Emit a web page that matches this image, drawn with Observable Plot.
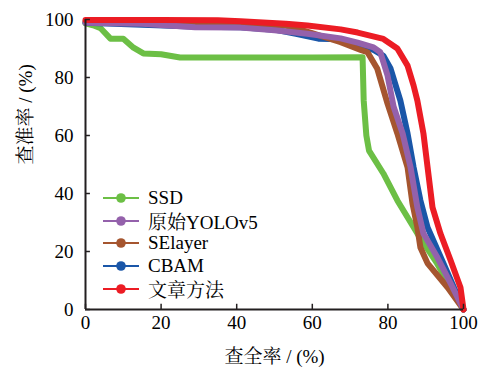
<!DOCTYPE html>
<html><head><meta charset="utf-8">
<script src="https://cdn.jsdelivr.net/npm/d3@7"></script>
<script src="https://cdn.jsdelivr.net/npm/@observablehq/plot@0.6"></script>
<style>
body{margin:0;font-size:18px}
.a{font-family:"Times New Roman","Noto Serif CJK SC",serif;}
#wrap{position:relative;width:480px;height:372px;}
#legend{position:absolute;left:103px;top:187px;}
.row{display:flex;align-items:center;height:22.6px;}
.row svg{margin-right:9px;}
</style></head>
<body>
<div id="wrap"><div id="legend" class="a"></div></div>
<script>
const seriesNames = ["SSD", "原始YOLOv5", "SElayer", "CBAM", "文章方法"];
const seriesColors = ["#6cbf45", "#9461ab", "#a5552f", "#1a56a8", "#ec1c24"];
const xTicks = [0, 20, 40, 60, 80, 100];
const yTicks = [0, 20, 40, 60, 80, 100];
const xTitle = "查全率 / (%)";
const yTitle = "查准率 / (%)";

const ssdRecall    = [0, 2, 4, 6.6, 10, 12.7, 15.3, 20, 25, 40, 60, 73.3, 73.6, 74.3, 75, 78.8, 82.5, 87.8, 93, 100];
const ssdPrecision = [98.7, 98, 97, 93.4, 93.4, 90.3, 88.3, 88, 86.9, 86.9, 86.9, 87, 72, 60, 54.8, 46.9, 37.6, 26.2, 15.9, 0];

const yoloRecall    = [0, 15, 29, 41, 50, 58.7, 67.5, 72, 76.2, 78, 79.9, 81.5, 83.9, 86, 87.8, 89.4, 93.1, 96.6, 100];
const yoloPrecision = [98.9, 98.5, 97.3, 97.2, 96.3, 95.1, 93.5, 92, 90.4, 88.7, 80.7, 70, 60.7, 49, 35.2, 26.2, 17.9, 9, 0];

const seRecall    = [0, 15, 29, 41, 53, 59.5, 67.5, 72.8, 74.6, 77.2, 79.9, 82.5, 85.2, 86.5, 87.8, 88.6, 90.5, 95.8, 100];
const sePrecision = [99.3, 99.1, 98.7, 98.4, 97.9, 95.5, 92.2, 89.5, 88.7, 83, 71, 60.7, 49, 36.6, 28.3, 21.4, 15.9, 7.6, 0];

const cbamRecall    = [0, 15, 30, 41, 50, 56, 61.6, 67.5, 72, 76.2, 78.8, 80.7, 83.3, 85.2, 86.8, 88.6, 90.5, 94.7, 100];
const cbamPrecision = [98.9, 98.2, 97.5, 97.3, 96.5, 95, 93.4, 93.2, 91.5, 89.5, 87.5, 83.1, 72, 60.7, 49, 37.6, 28.3, 15.9, 0];

const oursRecall    = [0, 20, 35, 41, 53, 58.7, 67.5, 72, 78.8, 82.5, 85.2, 86.8, 87.8, 89.4, 90.5, 91.8, 93.9, 96.6, 99.2, 100];
const oursPrecision = [99.8, 99.8, 99.7, 99.4, 98.5, 97.9, 96.6, 95.5, 93.3, 90, 84.1, 77.2, 72, 60.7, 49, 35.2, 26.2, 16.9, 7.6, 0];

const recalls = [ssdRecall, yoloRecall, seRecall, cbamRecall, oursRecall];
const precisions = [ssdPrecision, yoloPrecision, sePrecision, cbamPrecision, oursPrecision];
const drawOrder = [0, 3, 2, 1, 4];

const data = [];
for (const i of drawOrder) {
  recalls[i].forEach((r, k) => data.push({s: seriesNames[i], r, p: precisions[i][k]}));
}

const font = '"Times New Roman","Noto Serif CJK SC",serif';
const chart = Plot.plot({
  width: 480, height: 372,
  marginLeft: 85, marginRight: 17, marginTop: 19, marginBottom: 63,
  style: {fontFamily: font, fontSize: "19px"},
  x: {domain: [0, 100]},
  y: {domain: [0, 100]},
  color: {domain: seriesNames, range: seriesColors},
  marks: [
    Plot.axisX(xTicks, {tickSize: 0, tickPadding: 6, label: null}),
    Plot.axisY(yTicks, {tickSize: 0, tickPadding: 12, label: null}),
    Plot.line(data, {x: "r", y: "p", z: "s", stroke: "s", strokeWidth: 6, strokeLinejoin: "round", strokeLinecap: "round"}),
    Plot.ruleX(xTicks, {y1: 0, y2: 1.8, stroke: "#231f20", strokeWidth: 1.5}),
    Plot.ruleY(yTicks, {x1: 0, x2: 1.3, stroke: "#231f20", strokeWidth: 1.5}),
    Plot.ruleX([0], {stroke: "#231f20", strokeWidth: 2}),
    Plot.ruleY([0], {stroke: "#231f20", strokeWidth: 2}),
    Plot.text([xTitle], {frameAnchor: "bottom", dy: 47, text: d => d, lineAnchor: "middle"}),
    Plot.text([yTitle], {frameAnchor: "left", dx: -60, text: d => d, rotate: -90, lineAnchor: "middle"})
  ]
});
const wrap = document.getElementById("wrap");
wrap.insertBefore(chart, wrap.firstChild);

const legend = d3.select("#legend");
seriesNames.forEach((name, i) => {
  const row = legend.append("div").attr("class", "row a").style("font-size", "19px");
  const svg = row.append("svg").attr("width", 36).attr("height", 12);
  svg.append("line").attr("x1", 0).attr("x2", 36).attr("y1", 6).attr("y2", 6).attr("stroke", seriesColors[i]).attr("stroke-width", 2);
  svg.append("circle").attr("cx", 18).attr("cy", 6).attr("r", 4.8).attr("fill", seriesColors[i]);
  row.append("span").attr("class", "a").text(name);
});
</script></body></html>
